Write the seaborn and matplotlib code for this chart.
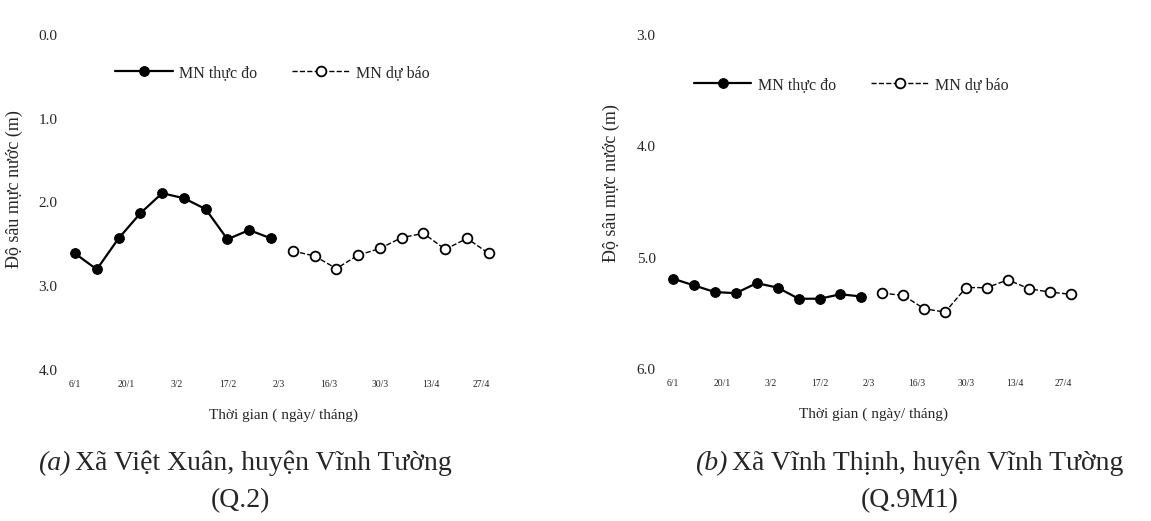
import pandas as pd
import matplotlib.pyplot as plt
import seaborn as sns

# dates (day/month, 2020) - observed every 6 days, then forecast
obs_dates = ['2020-01-06', '2020-01-12', '2020-01-18', '2020-01-24', '2020-01-30',
             '2020-02-05', '2020-02-11', '2020-02-17', '2020-02-23', '2020-02-29']
fc_dates = ['2020-03-06', '2020-03-12', '2020-03-18', '2020-03-24', '2020-03-30',
            '2020-04-05', '2020-04-11', '2020-04-17', '2020-04-23', '2020-04-29']

# (a) Q.2 - water table depth (m)
q2_obs = [2.61, 2.80, 2.43, 2.13, 1.89, 1.95, 2.08, 2.44, 2.33, 2.43]
q2_fc = [2.58, 2.64, 2.79, 2.63, 2.55, 2.42, 2.37, 2.56, 2.43, 2.61]

# (b) Q.9M1
q9_obs = [5.19, 5.25, 5.31, 5.32, 5.23, 5.27, 5.37, 5.37, 5.33, 5.35]
q9_fc = [5.32, 5.34, 5.46, 5.49, 5.27, 5.27, 5.20, 5.28, 5.31, 5.33]

tick_dates = ['2020-01-06', '2020-01-20', '2020-02-03', '2020-02-17', '2020-03-02',
              '2020-03-16', '2020-03-30', '2020-04-13', '2020-04-27']
tick_labels = ['6/1', '20/1', '3/2', '17/2', '2/3', '16/3', '30/3', '13/4', '27/4']

start = pd.Timestamp(obs_dates[0])


def days(lst):
    return [(pd.Timestamp(d) - start).days for d in lst]


sns.set_theme(style='white')
plt.rcParams['font.family'] = ['Liberation Serif', 'DejaVu Serif']

fig = plt.figure(figsize=(11.51, 5.21), dpi=100)
ax1 = fig.add_axes([0.062, 0.290, 0.369, 0.643])
ax2 = fig.add_axes([0.5817, 0.292, 0.3546, 0.641])

panels = [
    (ax1, q2_obs, q2_fc, (4.0, 0.0), [0.0, 1.0, 2.0, 3.0, 4.0], (0.474, 0.887), (-0.114, 0.54)),
    (ax2, q9_obs, q9_fc, (6.0, 3.0), [3.0, 4.0, 5.0, 6.0], (0.445, 0.85), (-0.121, 0.555)),
]

for ax, obs, fc, ylim, yticks, leg_pos, ylab_pos in panels:
    df_obs = pd.DataFrame({'x': days(obs_dates), 'depth': obs})
    df_fc = pd.DataFrame({'x': days(fc_dates), 'depth': fc})
    sns.lineplot(data=df_obs, x='x', y='depth', ax=ax, color='black', lw=1.6,
                 marker='o', markersize=7, markerfacecolor='black',
                 markeredgecolor='black', label='MN thực đo', clip_on=False)
    sns.lineplot(data=df_fc, x='x', y='depth', ax=ax, color='black', lw=1.0,
                 linestyle='--', marker='o', markersize=7, markerfacecolor='white',
                 markeredgecolor='black', markeredgewidth=1.3, label='MN dự báo',
                 clip_on=False)
    ax.set_xlim(-1, 116)
    ax.set_ylim(*ylim)
    ax.set_yticks(yticks)
    ax.set_yticklabels([f'{v:.1f}' for v in yticks], fontsize=11)
    ax.set_xticks(days(tick_dates))
    ax.set_xticklabels(tick_labels, fontsize=7)
    ax.tick_params(axis='both', length=0)
    ax.tick_params(axis='y', pad=10)
    ax.tick_params(axis='x', pad=7)
    for s in ax.spines.values():
        s.set_visible(False)
    ax.set_xlabel('Thời gian ( ngày/ tháng)', fontsize=11, labelpad=14)
    ax.set_ylabel('Độ sâu mực nước (m)', fontsize=13)
    ax.yaxis.set_label_coords(*ylab_pos)
    ax.legend(loc='center', bbox_to_anchor=leg_pos, ncol=2, frameon=False,
              fontsize=11.5, handlelength=3.6, columnspacing=2.2, handletextpad=0.4)

# captions
fig.text(0.033, 0.111, '(a)', fontsize=20, style='italic', ha='left', va='center')
fig.text(0.065, 0.111, 'Xã Việt Xuân, huyện Vĩnh Tường', fontsize=20, ha='left', va='center')
fig.text(0.209, 0.040, '(Q.2)', fontsize=20, ha='center', va='center')
fig.text(0.604, 0.111, '(b)', fontsize=20, style='italic', ha='left', va='center')
fig.text(0.636, 0.111, 'Xã Vĩnh Thịnh, huyện Vĩnh Tường', fontsize=20, ha='left', va='center')
fig.text(0.790, 0.040, '(Q.9M1)', fontsize=20, ha='center', va='center')

fig.savefig('out.png', dpi=100)
